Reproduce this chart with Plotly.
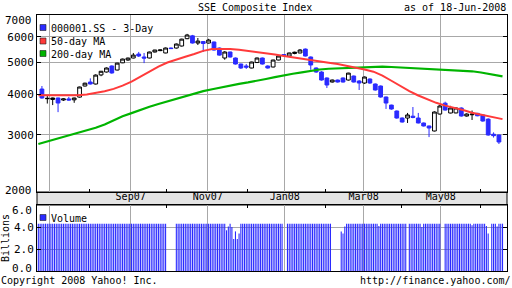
import math
import pandas as pd
import plotly.graph_objects as go

W, H = 512, 288
MONO = "DejaVu Sans Mono"
BLUE = "#2a2aff"
GRID = "#a8a8a8"

# ---------------- data ----------------
# 3-day candles (first trading day of each period)
candle_dates = ["2007-06-25","2007-06-28","2007-07-03","2007-07-06","2007-07-11","2007-07-16","2007-07-19","2007-07-24","2007-07-27","2007-08-01",
                "2007-08-06","2007-08-09","2007-08-14","2007-08-17","2007-08-22","2007-08-27","2007-08-30","2007-09-04","2007-09-07","2007-09-12",
                "2007-09-17","2007-09-20","2007-09-25","2007-09-28","2007-10-03","2007-10-08","2007-10-11","2007-10-16","2007-10-19","2007-10-24",
                "2007-10-29","2007-11-01","2007-11-06","2007-11-09","2007-11-14","2007-11-19","2007-11-22","2007-11-27","2007-11-30","2007-12-05",
                "2007-12-10","2007-12-13","2007-12-18","2007-12-21","2007-12-26","2007-12-31","2008-01-03","2008-01-08","2008-01-11","2008-01-16",
                "2008-01-21","2008-01-24","2008-01-29","2008-02-01","2008-02-06","2008-02-11","2008-02-14","2008-02-19","2008-02-22","2008-02-27",
                "2008-03-03","2008-03-06","2008-03-11","2008-03-14","2008-03-19","2008-03-24","2008-03-27","2008-04-01","2008-04-04","2008-04-09",
                "2008-04-14","2008-04-17","2008-04-22","2008-04-25","2008-04-30","2008-05-05","2008-05-08","2008-05-13","2008-05-16","2008-05-21",
                "2008-05-26","2008-05-29","2008-06-03","2008-06-06","2008-06-11","2008-06-16"]
candle_open = [4145,3870,3850,3890,3835,3865,3840,3915,4235,4356,
               4295,4580,4676,4879,4742,4990,5090,5163,5310,5200,
               5163,5387,5440,5350,5541,5541,5621,5920,6040,5740,
               5800,5740,5782,5541,5163,5387,5163,4948,4880,4810,
               5000,5163,4879,4845,5090,5290,5236,5330,5350,5500,
               5200,4810,4676,4482,4356,4418,4482,4418,4545,4387,
               4325,4450,4295,4235,3917,3700,3548,3376,3376,3420,
               3376,3259,3191,3080,3473,3750,3498,3500,3624,3424,
               3455,3490,3450,3350,3010,2994]
candle_high = [4235,3950,3900,3900,3880,3920,3900,4215,4335,4470,
               4600,4710,4830,4900,4990,5140,5180,5350,5390,5350,
               5400,5470,5480,5560,5560,5720,5920,6124,6080,5948,
               5820,5914,5800,5560,5420,5400,5180,4960,4948,5030,
               5180,5180,4900,5100,5250,5300,5360,5400,5500,5522,
               5220,4830,4700,4500,4430,4430,4500,4650,4560,4418,
               4530,4470,4310,4250,3930,3710,3560,3390,3500,3650,
               3500,3270,3200,3540,3700,3790,3680,3640,3640,3490,
               3560,3500,3470,3370,3050,3000]
candle_low = [3870,3740,3700,3520,3810,3820,3760,3900,4220,4280,
              4280,4540,4660,4620,4730,4980,5060,5150,5200,4980,
              5150,5370,5420,5340,5500,5520,5600,5900,5720,5660,
              5387,5720,5440,5250,5100,5180,4930,4780,4778,4800,
              4990,4930,4790,4830,5080,5250,5220,5300,5340,5220,
              4750,4650,4400,4175,4340,4340,4340,4400,4340,4117,
              4300,4300,4100,3900,3600,3580,3360,3270,3260,3370,
              3250,3180,2950,3070,3460,3560,3490,3490,3410,3410,
              3330,3420,3290,2980,2940,2809]
candle_close = [3890,3880,3890,3755,3865,3835,3890,4205,4320,4295,
                4575,4700,4810,4645,4980,5125,5160,5270,5236,5160,
                5387,5463,5465,5541,5520,5700,5900,6075,5740,5820,
                5720,5864,5463,5270,5387,5200,4948,4810,4840,5019,
                5163,4948,4810,5090,5236,5260,5350,5380,5463,5236,
                4914,4676,4418,4265,4418,4356,4356,4640,4356,4325,
                4513,4325,4117,3917,3754,3598,3376,3282,3450,3390,
                3260,3191,3146,3523,3676,3573,3624,3624,3424,3473,
                3470,3430,3305,2994,2980,2849]

# moving averages (weekly readings)
ma_dates = ["2007-06-21","2007-07-02","2007-07-09","2007-07-16","2007-07-23","2007-07-30","2007-08-06","2007-08-13","2007-08-20","2007-08-27",
            "2007-09-03","2007-09-10","2007-09-17","2007-09-24","2007-10-01","2007-10-08","2007-10-15","2007-10-22","2007-10-29","2007-11-05",
            "2007-11-12","2007-11-19","2007-11-26","2007-12-03","2007-12-10","2007-12-17","2007-12-24","2007-12-31","2008-01-07","2008-01-14",
            "2008-01-21","2008-01-28","2008-02-04","2008-02-11","2008-02-18","2008-02-25","2008-03-03","2008-03-10","2008-03-17","2008-03-24",
            "2008-03-31","2008-04-07","2008-04-14","2008-04-21","2008-04-28","2008-05-05","2008-05-12","2008-05-19","2008-05-26","2008-06-02",
            "2008-06-09","2008-06-16","2008-06-18"]
ma50 = [3965,3965,3965,3965,3965,3990,4030,4080,4150,4245,
        4370,4530,4715,4860,5000,5115,5210,5310,5430,5500,
        5514,5500,5470,5430,5387,5340,5290,5240,5185,5135,
        5085,5040,4995,4950,4890,4820,4760,4686,4560,4395,
        4235,4085,3960,3850,3760,3685,3635,3575,3505,3462,
        3425,3370,3350]
ma200 = [2809,2880,2935,2985,3035,3090,3150,3225,3320,3420,
         3495,3580,3655,3730,3800,3865,3930,4010,4085,4140,
         4200,4250,4300,4345,4387,4450,4510,4575,4620,4665,
         4715,4760,4785,4800,4815,4830,4845,4853,4855,4845,
         4830,4810,4790,4775,4760,4745,4730,4715,4700,4660,
         4605,4550,4536]

# daily volume (billions), trading days Jun 21 2007 - Jun 18 2008
holidays = ["2007-10-01","2007-10-02","2007-10-03","2007-10-04","2007-10-05","2007-12-31","2008-01-01",
            "2008-02-06","2008-02-07","2008-02-08","2008-02-11","2008-02-12","2008-04-04","2008-05-01","2008-05-02","2008-06-09"]
vol_jun07 = [4.3,4.3,4.3,4.3,4.3,4.3,4.3]
vol_jul07 = [4.3,4.3,4.3,4.3,4.3,4.3,4.3,4.3,4.3,4.3,4.3,4.3,4.3,4.3,4.3,4.3,4.3,4.3,4.3,4.3,4.3,4.3]
vol_aug07 = [4.3,4.3,4.3,4.3,4.3,4.3,4.3,4.3,4.3,4.3,4.3,4.3,4.3,4.3,4.3,4.3,4.3,4.3,4.3,4.3,4.3,4.3,4.3]
vol_sep07 = [4.3,4.3,4.3,4.3,4.3,4.3,4.3,4.3,4.3,4.3,4.3,4.3,4.3,4.3,4.3,4.3,4.3,4.3,4.3,4.3]
vol_oct07 = [4.3,4.3,4.3,4.3,4.3,4.3,4.3,4.3,4.3,4.3,4.3,4.3,4.3,4.3,4.3,4.3,4.3,4.3]
vol_nov07 = [4.3,4.3,4.3,4.3,4.3,4.3,4.3,4.3,4.3,4.3,3.7,4.05,4.3,4.0,2.9,3.6,2.9,3.4,4.3,4.3,4.3,4.3]
vol_dec07 = [4.3,4.3,4.3,4.3,4.3,4.3,4.3,4.3,4.3,4.3,4.3,4.3,4.3,4.3,4.3,4.3,4.3,4.3,4.3,4.3]
vol_jan08 = [4.3,4.3,4.3,4.3,4.3,4.3,4.3,4.3,4.3,4.3,4.3,4.3,4.3,4.3,4.3,4.3,4.3,4.3,4.3,4.3,4.3,4.3]
vol_feb08 = [4.3,4.3,4.3,3.6,3.4,4.05,4.3,4.3,4.3,4.3,4.3,4.3,4.3,4.3,4.3,4.3]
vol_mar08 = [4.3,4.3,4.3,4.3,4.3,4.3,4.3,4.3,4.1,4.3,4.3,4.3,4.3,4.3,4.3,4.3,4.3,4.3,4.3,4.3,4.3]
vol_apr08 = [4.3,4.3,4.3,4.3,4.3,4.3,4.3,4.3,4.3,4.3,4.0,4.3,4.3,4.3,4.3,4.3,4.3,4.3,4.3,4.3,4.3]
vol_may08 = [4.3,4.3,4.3,4.3,4.3,4.3,4.3,4.3,4.3,4.3,4.3,4.3,4.3,4.3,4.3,4.15,4.3,4.3,4.3,4.3]
vol_jun08 = [4.3,4.3,4.3,4.1,3.4,4.3,4.3,4.3,4.05,4.3,4.3,4.3]

major_ticks = ["2007-07-02","2007-09-03","2007-11-01","2008-01-01","2008-03-03","2008-05-01"]
major_labels = ["", "Sep07", "Nov07", "Jan08", "Mar08", "May08"]
minor_ticks = ["2007-08-01","2007-10-01","2007-12-03","2008-02-01","2008-04-01","2008-06-02"]
price_ticks = [3000, 4000, 5000, 6000]
price_edge_labels = [("7000", 21), ("2000", 190)]
vol_ticks = [2, 4]
vol_tick_labels = ["2.0", "4.0"]
vol_edge_labels = [("6.0", 210.5), ("0.0", 268)]

# ---------------- build ----------------
noon = pd.Timedelta(hours=12)   # centre each mark in its trading day
cx = pd.to_datetime(candle_dates) + noon
mx = pd.to_datetime(ma_dates) + noon
vdays = pd.bdate_range("2007-06-21", "2008-06-18")
vdays = vdays[~vdays.isin(pd.to_datetime(holidays))]
volume = (vol_jun07 + vol_jul07 + vol_aug07 + vol_sep07 + vol_oct07 + vol_nov07 + vol_dec07 +
          vol_jan08 + vol_feb08 + vol_mar08 + vol_apr08 + vol_may08 + vol_jun08)
vx = vdays + noon
# thin volume bars as vertical 1px strokes from 0 to the value
bar_x, bar_y = [], []
for d, v in zip(vx, volume):
    bar_x += [d, d, None]
    bar_y += [0, v, None]

def px(x):
    return x / W

def py(y):
    return 1 - y / H

X0, X1 = 37, 507
MAIN_T, MAIN_B = 15, 192
VOL_T, VOL_B = 205, 271
xr = ["2007-06-20 18:00", "2008-06-20 23:59"]

fig = go.Figure()
fig.add_trace(go.Scatter(x=mx, y=ma200, mode="lines", line=dict(color="#00b400", width=2.2),
                         xaxis="x", yaxis="y", hoverinfo="skip"))
fig.add_trace(go.Scatter(x=mx, y=ma50, mode="lines", line=dict(color="#ff3a3a", width=2),
                         xaxis="x", yaxis="y", hoverinfo="skip"))
fig.add_trace(go.Candlestick(x=cx, open=candle_open, high=candle_high, low=candle_low, close=candle_close,
                             increasing=dict(line=dict(color="black", width=1), fillcolor="white"),
                             decreasing=dict(line=dict(color=BLUE, width=1), fillcolor=BLUE),
                             whiskerwidth=0, xaxis="x", yaxis="y"))
fig.add_trace(go.Scatter(x=bar_x, y=bar_y, mode="lines", line=dict(color=BLUE, width=1.1),
                         connectgaps=False, xaxis="x2", yaxis="y2", hoverinfo="skip"))

common_x = dict(type="date", range=xr, rangebreaks=[dict(bounds=["sat", "mon"])],
                tickvals=major_ticks, showgrid=True, gridcolor=GRID, gridwidth=1,
                showline=True, linecolor="black", linewidth=1, mirror=True, zeroline=False,
                minor=dict(tickvals=minor_ticks, ticks="inside", ticklen=3, tickcolor="black", showgrid=False),
                automargin=False, fixedrange=True)

fig.update_layout(
    width=W, height=H, margin=dict(l=0, r=0, t=0, b=0),
    paper_bgcolor="white", plot_bgcolor="white", showlegend=False, hovermode=False,
    boxgap=0.0,
    font=dict(family=MONO, size=10, color="black"),
    xaxis=dict(domain=[px(X0), px(X1)], anchor="y", showticklabels=False, ticks="",
               rangeslider=dict(visible=False), **common_x),
    yaxis=dict(domain=[py(MAIN_B), py(MAIN_T)], anchor="x", type="log",
               range=[math.log10(2000), math.log10(7000)], tickvals=price_ticks,
               ticks="inside", ticklen=4, tickcolor="black", showline=True, linecolor="black",
               mirror="ticks", showgrid=True, gridcolor=GRID, zeroline=False,
               tickfont=dict(family=MONO, size=11), automargin=False, fixedrange=True),
    xaxis2=dict(domain=[px(X0), px(X1)], anchor="y2", matches="x", side="top",
                ticktext=major_labels, showticklabels=True, ticks="",
                tickfont=dict(family=MONO, size=10), **common_x),
    yaxis2=dict(domain=[py(VOL_B), py(VOL_T)], anchor="x2", range=[0, 6],
                tickvals=vol_ticks, ticktext=vol_tick_labels, ticks="inside", ticklen=4,
                tickcolor="black", showline=True, linecolor="black", mirror="ticks",
                showgrid=True, gridcolor=GRID, zeroline=False,
                tickfont=dict(family=MONO, size=11),
                title=dict(text="Billions", font=dict(family=MONO, size=10), standoff=6),
                automargin=False, fixedrange=True),
)

shapes = [
    dict(type="rect", xref="paper", yref="paper", x0=px(X0), x1=px(X1), y0=py(VOL_T), y1=py(MAIN_B),
         fillcolor="#e4e4e4", line=dict(color="black", width=1), layer="below"),
]
legend_items = [("000001.SS - 3-Day", BLUE, 27.5), ("50-day MA", "#ff3a3a", 41), ("200-day MA", "#00b400", 53.5),
                ("Volume", BLUE, 217.5)]
annotations = []
for text, col, yc in legend_items:
    shapes.append(dict(type="rect", xref="paper", yref="paper", x0=px(40), x1=px(46),
                       y0=py(yc + 3), y1=py(yc - 3), fillcolor=col, line=dict(color="#202020", width=0.6),
                       layer="above"))
    annotations.append(dict(text=text, xref="paper", yref="paper", x=px(48.5), y=py(yc + 0.8),
                            xanchor="left", yanchor="middle", showarrow=False,
                            font=dict(family=MONO, size=10, color="black")))

# edge tick labels sit just inside the panel, as in the original
for text, yc in price_edge_labels + vol_edge_labels:
    annotations.append(dict(text=text, xref="paper", yref="paper", x=px(34), y=py(yc),
                            xanchor="right", yanchor="middle", showarrow=False,
                            font=dict(family=MONO, size=11, color="black")))

annotations += [
    dict(text="SSE Composite Index", xref="paper", yref="paper", x=px(255), y=py(7),
         xanchor="center", yanchor="middle", showarrow=False, font=dict(family=MONO, size=10)),
    dict(text="as of 18-Jun-2008", xref="paper", yref="paper", x=px(508), y=py(7),
         xanchor="right", yanchor="middle", showarrow=False, font=dict(family=MONO, size=10)),
    dict(text="Copyright 2008 Yahoo! Inc.", xref="paper", yref="paper", x=px(-1), y=py(280.5),
         xanchor="left", yanchor="middle", showarrow=False, font=dict(family=MONO, size=10)),
    dict(text="http://finance.yahoo.com/", xref="paper", yref="paper", x=px(513), y=py(280.5),
         xanchor="right", yanchor="middle", showarrow=False, font=dict(family=MONO, size=10)),
]
fig.update_layout(shapes=shapes, annotations=annotations)

fig.write_html("out.html")
